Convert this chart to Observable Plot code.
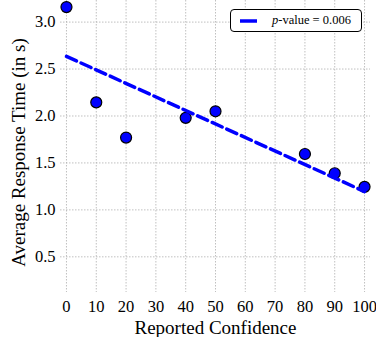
<!DOCTYPE html>
<html><head><meta charset="utf-8">
<script src="https://cdn.jsdelivr.net/npm/d3@7"></script>
<script src="https://cdn.jsdelivr.net/npm/@observablehq/plot@0.6"></script>
<style>
html,body{margin:0;padding:0;background:#fff;}
#wrap{position:relative;width:376px;height:337px;}
#legend{position:absolute;left:230px;top:9px;width:130px;height:21px;border:1.3px solid #000;border-radius:4px;background:#fff;font-family:"Liberation Serif",serif;font-size:12.5px;}
#legend svg{position:absolute;left:9px;top:6px;}
#legend span{position:absolute;left:41px;top:3px;white-space:nowrap;}
</style></head>
<body><div id="wrap"></div>
<script>
const confidence = [0, 10, 20, 40, 50, 80, 90, 100];
const responseTime = [3.16, 2.145, 1.77, 1.98, 2.05, 1.595, 1.39, 1.245];
const fitX = [0, 100];
const fitY = [2.635, 1.195];
const xTicks = [0, 10, 20, 30, 40, 50, 60, 70, 80, 90, 100];
const yTicks = [0.5, 1.0, 1.5, 2.0, 2.5, 3.0];
const legendLabel = "p-value = 0.006";
const xLabel = "Reported Confidence";
const yLabel = "Average Response Time (in s)";

const points = confidence.map((c, i) => ({x: c, y: responseTime[i]}));
const fit = fitX.map((c, i) => ({x: c, y: fitY[i]}));

const chart = Plot.plot({
  width: 376, height: 337,
  marginLeft: 60, marginRight: 6, marginTop: 0, marginBottom: 45,
  x: {domain: [-2, 102]},
  y: {domain: [0.12, 3.23]},
  style: {fontFamily: "Liberation Serif, serif", fontSize: "16px", color: "#000", background: "#fff"},
  marks: [
    Plot.ruleX(xTicks, {stroke: "#b0b0b0", strokeWidth: 0.8, strokeDasharray: "1.5,1.5", strokeOpacity: 1}),
    Plot.ruleY(yTicks, {stroke: "#b0b0b0", strokeWidth: 0.8, strokeDasharray: "1.5,1.5", strokeOpacity: 1}),
    Plot.axisX({ticks: xTicks, tickSize: 0, tickPadding: 8, label: null, tickFormat: d => String(d), fontSize: 16.5}),
    Plot.axisY({ticks: yTicks, tickSize: 0, tickPadding: 5, label: null, tickFormat: d => d.toFixed(1), fontSize: 16.5}),
    Plot.dot(points, {x: "x", y: "y", r: 5.5, fill: "#0000ff", stroke: "#000", strokeWidth: 1.2, clip: false}),
    Plot.line(fit, {x: "x", y: "y", stroke: "#0000ff", strokeWidth: 3.5, strokeDasharray: "11,5"}),
    Plot.text([xLabel], {frameAnchor: "bottom", textAnchor: "middle", lineAnchor: "middle", dy: 35, fontSize: 19, fill: "#000"}),
    Plot.text([yLabel], {frameAnchor: "left", textAnchor: "middle", lineAnchor: "middle", dx: -42, dy: 6, rotate: -90, fontSize: 19, fill: "#000"})
  ]
});
const wrap = document.getElementById("wrap");
wrap.appendChild(chart);
const lg = document.createElement("div");
lg.id = "legend";
const parts = legendLabel.split("-");
lg.innerHTML = '<svg width="22" height="10"><line x1="0" y1="5" x2="17" y2="5" stroke="#0000ff" stroke-width="3.5"/></svg><span><i>' + parts[0] + '</i>-' + parts.slice(1).join("-") + '</span>';
wrap.appendChild(lg);
</script></body></html>
